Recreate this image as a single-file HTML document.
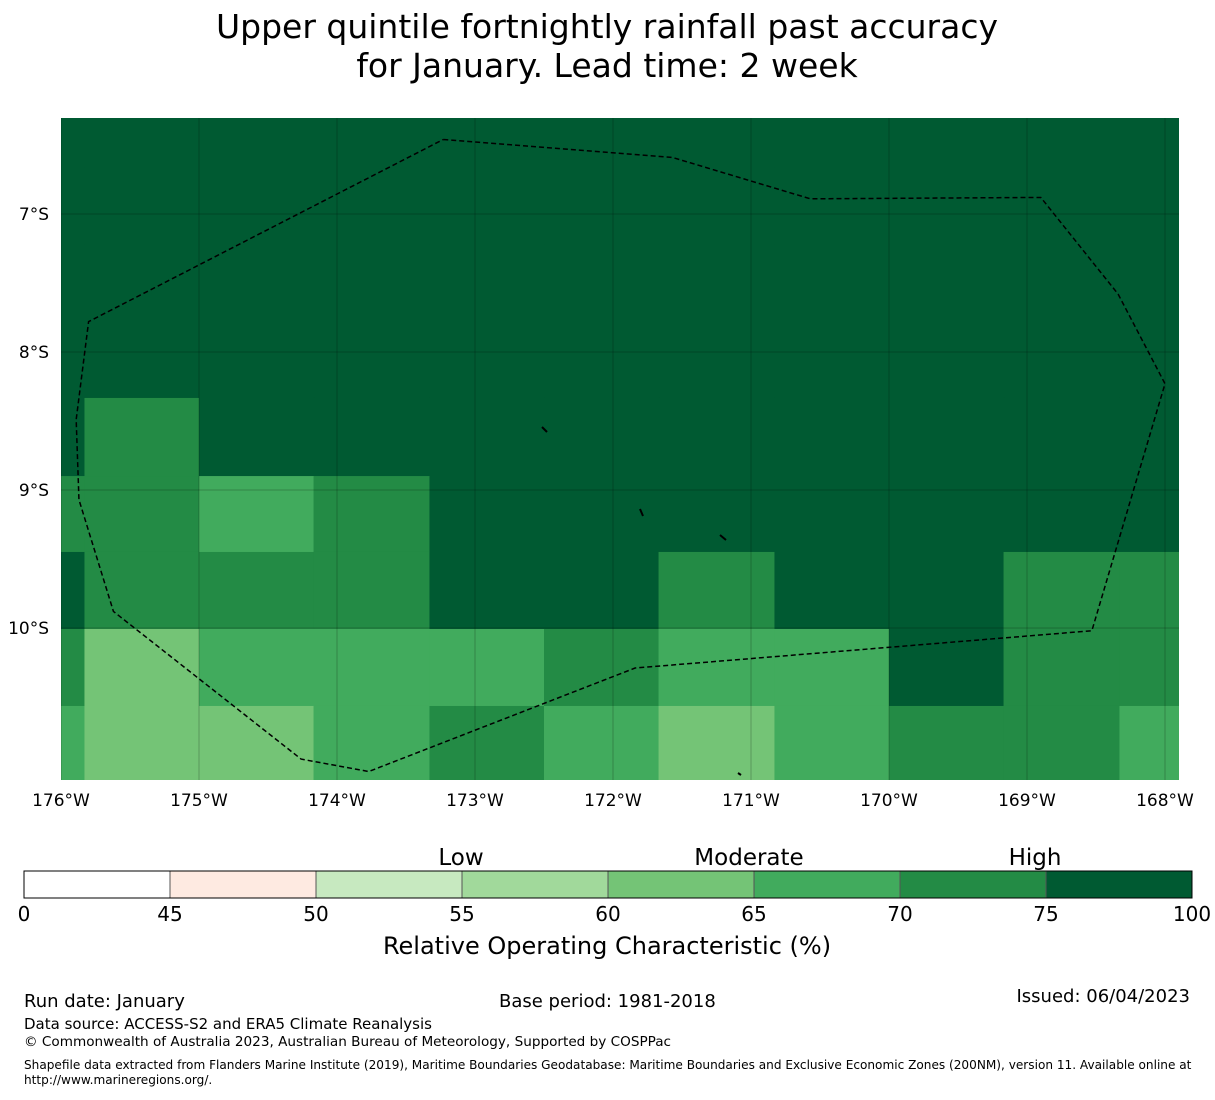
<!DOCTYPE html>
<html><head><meta charset="utf-8"><style>
body{margin:0;background:#fff;font-family:"Liberation Sans","DejaVu Sans",sans-serif}
svg text{font-family:"DejaVu Sans","Liberation Sans",sans-serif}
</style></head><body>
<svg id="c" width="1215" height="1095" xmlns="http://www.w3.org/2000/svg">
<text x="607" y="38" font-size="33" text-anchor="middle">Upper quintile fortnightly rainfall past accuracy</text>
<text x="607" y="77" font-size="33" text-anchor="middle">for January. Lead time: 2 week</text>
<g id="map"></g>
<g id="cb"></g>
<text x="24" y="1007" font-size="18">Run date: January</text>
<text x="499" y="1007" font-size="18">Base period: 1981-2018</text>
<text x="1190" y="1002" font-size="18" text-anchor="end">Issued: 06/04/2023</text>
<text x="24" y="1029" font-size="15">Data source: ACCESS-S2 and ERA5 Climate Reanalysis</text>
<text x="24" y="1046" font-size="13.6">© Commonwealth of Australia 2023, Australian Bureau of Meteorology, Supported by COSPPac</text>
<text x="24" y="1069" font-size="12.1">Shapefile data extracted from Flanders Marine Institute (2019), Maritime Boundaries Geodatabase: Maritime Boundaries and Exclusive Economic Zones (200NM), version 11. Available online at</text>
<text x="24" y="1084" font-size="12.1">http://www.marineregions.org/.</text>
</svg>
<script>
const NS="http://www.w3.org/2000/svg";
// ROC grid values (%), rows from north to south, cols from west
const rocRows=[
[80,80,80,80,80,80,80,80,80,80,80],
[80,80,80,80,80,80,80,80,80,80,80],
[80,80,80,80,80,80,80,80,80,80,80],
[80,80,80,80,80,80,80,80,80,80,80],
[80,72,80,80,80,80,80,80,80,80,80],
[72,72,67,72,80,80,80,80,80,80,80],
[80,72,72,72,80,80,72,80,80,72,72],
[72,62,67,67,67,72,67,67,80,72,72],
[67,62,62,67,72,67,62,67,72,72,67]];
const colLon=[-176.18,-175.83,-175.0,-174.17,-173.33,-172.5,-171.67,-170.83,-170.0,-169.17,-168.33,-167.5];
const rowLat=[-6.1,-6.66,-7.22,-7.78,-8.333,-8.899,-9.449,-10.007,-10.565,-11.2];
const bounds=[0,45,50,55,60,65,70,75,100];
const colors=["#ffffff","#feeae1","#c7e9c0","#a1d99b","#74c476","#41ab5d","#238b45","#005a32"];
const lonTicks=[-176,-175,-174,-173,-172,-171,-170,-169,-168];
const latTicks=[-7,-8,-9,-10];
const eez=[[-173.23,-6.46],[-171.57,-6.59],[-170.57,-6.89],[-168.9,-6.88],[-168.34,-7.58],[-168.0,-8.23],[-168.53,-10.02],[-171.84,-10.29],[-173.77,-11.04],[-174.26,-10.95],[-175.62,-9.88],[-175.87,-9.07],[-175.89,-8.49],[-175.8,-7.78],[-173.23,-6.46]];
const X0=61,X1=1179,Y0=118,Y1=780;
const x=l=>61+(l+176)*138, y=la=>214+(-7-la)*138;
function col(v){for(let i=0;i<colors.length;i++)if(v<bounds[i+1])return colors[i];return colors[colors.length-1];}
function mk(t,a,p){const e=document.createElementNS(NS,t);for(const k in a)e.setAttribute(k,a[k]);p.appendChild(e);return e;}
const map=document.getElementById('map');
const defs=mk('defs',{},map);const cp=mk('clipPath',{id:'cp'},defs);mk('rect',{x:X0,y:Y0,width:X1-X0,height:Y1-Y0},cp);
const g=mk('g',{'clip-path':'url(#cp)'},map);
rocRows.forEach((r,i)=>r.forEach((v,j)=>{
 const e=mk('rect',{x:x(colLon[j]),y:y(rowLat[i]),width:x(colLon[j+1])-x(colLon[j])+0.5,height:y(rowLat[i+1])-y(rowLat[i])+0.5,fill:col(v)},g);
 
 
}));
lonTicks.forEach(l=>{
 const ln=mk('line',{x1:x(l),x2:x(l),y1:Y0,y2:Y1,stroke:'#000','stroke-opacity':0.22,'stroke-width':1},g);
 
 const t=mk('text',{x:x(l),y:806,'font-size':17,'text-anchor':'middle'},map);t.textContent=Math.abs(l)+'°W';
 
});
latTicks.forEach(l=>{
 const ln=mk('line',{x1:X0,x2:X1,y1:y(l),y2:y(l),stroke:'#000','stroke-opacity':0.22,'stroke-width':1},g);
 
 const t=mk('text',{x:49,y:y(l)+6,'font-size':17,'text-anchor':'end'},map);t.textContent=Math.abs(l)+'°S';
 
});
const pe=mk('polyline',{points:eez.map(p=>x(p[0])+','+y(p[1])).join(' '),fill:'none',stroke:'#000','stroke-width':1.5,'stroke-dasharray':'5,3'},g);

[[542,427,547,432],[640,509,643,516],[720,535,726,540],[738,773,741,775]].forEach(s=>{
 const e=mk('line',{x1:s[0],y1:s[1],x2:s[2],y2:s[3],stroke:'#000','stroke-width':2},g);
 
});
const cb=document.getElementById('cb');
const cx0=24,cw=146;
for(let i=0;i<colors.length;i++){
 const e=mk('rect',{x:cx0+i*cw,y:871,width:cw,height:27,fill:colors[i],stroke:'#555','stroke-width':1},cb);
 
 const t=mk('text',{x:cx0+i*cw,y:921,'font-size':20,'text-anchor':'middle'},cb);t.textContent=bounds[i];
 
}
const te=mk('text',{x:cx0+8*cw,y:921,'font-size':20,'text-anchor':'middle'},cb);te.textContent=bounds[8];

mk('rect',{x:cx0,y:871,width:8*cw,height:27,fill:'none',stroke:'#000','stroke-width':1},cb);
[["Low",461],["Moderate",749],["High",1035]].forEach(a=>{
 const t=mk('text',{x:a[1],y:865,'font-size':23,'text-anchor':'middle'},cb);t.textContent=a[0];
 
});
const tt=mk('text',{x:607,y:954,'font-size':24,'text-anchor':'middle'},cb);tt.textContent='Relative Operating Characteristic (%)';

</script>
</body></html>
